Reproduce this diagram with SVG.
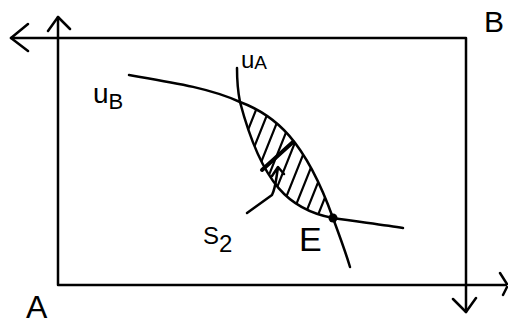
<svg xmlns="http://www.w3.org/2000/svg" width="508" height="325" viewBox="0 0 508 325">
<style>
.ln{fill:none;stroke:#000;stroke-width:2.5;stroke-linecap:round;stroke-linejoin:round}
.h{stroke:#000;stroke-width:2.2;stroke-linecap:round}
.t{font-family:"Liberation Sans",Arial,sans-serif;fill:#000}
</style>
<defs>
<clipPath id="lens">
<path d="M240,102 C275,115 305,140 333,218 C290,210 262,185 240,102 Z"/>
</clipPath>
</defs>
<rect width="508" height="325" fill="#fff"/>
<g id="box">
<path class="ln" d="M11,38 L466,38 L466,312 M58,17 L58,285 L506,285"/>
<path class="ln" d="M28,24 L11,38 L28,51 M48,31 L58,17 L70,29 M453,299 L466,312 L476,298 M500,273 L507,284 M507,287 L503,295"/>
</g>
<g id="curves">
<path id="uB" class="ln" d="M129,75 C170,82 210,88 240,102 C275,115 305,140 333,218 C338,232 345,250 350,267"/>
<path id="uA" class="ln" d="M237,68 C237,80 238,92 240,102 C262,185 290,210 333,218 C360,222 385,225 403,228"/>
</g>
<g id="hatch" clip-path="url(#lens)">
<line class="h" x1="208" y1="230" x2="268" y2="80"/>
<line class="h" x1="221" y1="230" x2="281" y2="80"/>
<line class="h" x1="234" y1="230" x2="294" y2="80"/>
<line class="h" x1="247" y1="230" x2="307" y2="80"/>
<line class="h" x1="260" y1="230" x2="320" y2="80"/>
<line class="h" x1="273" y1="230" x2="333" y2="80"/>
<line class="h" x1="286" y1="230" x2="346" y2="80"/>
<line class="h" x1="299" y1="230" x2="359" y2="80"/>
<line class="h" x1="312" y1="230" x2="372" y2="80"/>
</g>
<g id="bold">
<path fill="none" stroke="#000" stroke-width="4" stroke-linecap="round" d="M262,170 L293,142"/>
</g>
<g id="S2arrow">
<path class="ln" d="M247,213 L272,195 C276,187 276,178 278,168 M272,176 L278,167 L284,174"/>
</g>
<circle id="E" cx="333" cy="218" r="4.5" fill="#000"/>
<g id="labels">
<text class="t" x="241" y="68" font-size="24">u<tspan font-size="19" dy="1">A</tspan></text>
<text class="t" x="93" y="103" font-size="28">u<tspan font-size="22" dy="6">B</tspan></text>
<text class="t" x="203" y="244" font-size="24">S<tspan font-size="24" dy="8">2</tspan></text>
<text class="t" x="299" y="251" font-size="34">E</text>
<text class="t" x="26" y="318" font-size="32">A</text>
<text class="t" x="484" y="32" font-size="30">B</text>
</g>
</svg>
